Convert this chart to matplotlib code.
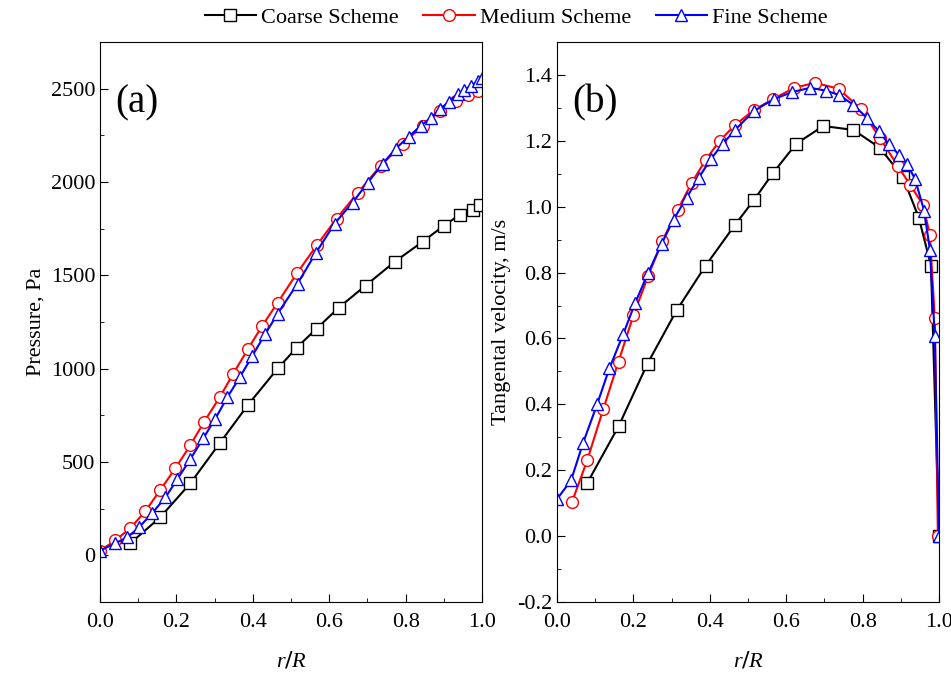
import matplotlib.pyplot as plt
from matplotlib.ticker import MultipleLocator

plt.rcParams['font.family'] = ['Liberation Serif', 'DejaVu Serif']
plt.rcParams['mathtext.fontset'] = 'custom'
plt.rcParams['mathtext.it'] = 'Liberation Serif:italic'

# (a) pressure
p_coarse_x = [0.079, 0.157, 0.236, 0.313, 0.388, 0.465, 0.515, 0.567, 0.625,
              0.695, 0.772, 0.845, 0.900, 0.942, 0.976, 0.995]
p_coarse_y = [64, 203, 385, 600, 808, 1001, 1113, 1215, 1327,
              1445, 1574, 1681, 1766, 1825, 1852, 1879]
p_medium_x = [0.0, 0.040, 0.079, 0.118, 0.157, 0.197, 0.236, 0.273, 0.313, 0.349,
              0.388, 0.425, 0.465, 0.515, 0.567, 0.619, 0.675, 0.735, 0.793,
              0.845, 0.890, 0.932, 0.963, 0.990]
p_medium_y = [25, 80, 145, 235, 348, 466, 589, 717, 846, 974,
              1108, 1231, 1354, 1510, 1660, 1804, 1943, 2088, 2205,
              2302, 2382, 2436, 2468, 2489]
p_fine_x = [0.0, 0.039, 0.071, 0.102, 0.136, 0.171, 0.202, 0.236, 0.270, 0.302,
            0.333, 0.367, 0.399, 0.433, 0.465, 0.517, 0.564, 0.614, 0.661,
            0.701, 0.740, 0.774, 0.808, 0.840, 0.866, 0.890, 0.913, 0.937,
            0.953, 0.971, 0.990, 1.0]
p_fine_y = [25, 64, 96, 150, 225, 310, 407, 514, 626, 733,
            846, 958, 1070, 1188, 1295, 1456, 1617, 1777, 1890,
            1997, 2098, 2179, 2243, 2302, 2345, 2390, 2430, 2473,
            2494, 2516, 2543, 2559]

# (b) tangential velocity
v_coarse_x = [0.079, 0.161, 0.237, 0.313, 0.389, 0.466, 0.516, 0.566, 0.626,
              0.697, 0.776, 0.845, 0.905, 0.947, 0.979, 1.0]
v_coarse_y = [0.161, 0.333, 0.524, 0.685, 0.821, 0.945, 1.021, 1.103, 1.191,
              1.245, 1.233, 1.179, 1.091, 0.967, 0.821, 0.0]
v_medium_x = [0.039, 0.079, 0.121, 0.161, 0.200, 0.239, 0.276, 0.316, 0.353,
              0.389, 0.426, 0.466, 0.516, 0.566, 0.621, 0.676, 0.737, 0.795,
              0.845, 0.892, 0.924, 0.958, 0.976, 0.989, 0.997]
v_medium_y = [0.103, 0.230, 0.385, 0.530, 0.670, 0.791, 0.897, 0.991, 1.073,
              1.142, 1.200, 1.248, 1.294, 1.327, 1.361, 1.376, 1.358, 1.297,
              1.209, 1.124, 1.067, 1.006, 0.915, 0.661, 0.0]
v_fine_x = [0.0, 0.037, 0.068, 0.105, 0.137, 0.174, 0.205, 0.239, 0.274, 0.305,
            0.339, 0.371, 0.403, 0.434, 0.466, 0.516, 0.568, 0.616, 0.663,
            0.705, 0.739, 0.776, 0.811, 0.842, 0.868, 0.895, 0.916, 0.937,
            0.961, 0.976, 0.989, 1.0]
v_fine_y = [0.112, 0.170, 0.282, 0.400, 0.509, 0.615, 0.709, 0.800, 0.888, 0.961,
            1.027, 1.088, 1.145, 1.191, 1.233, 1.291, 1.327, 1.348, 1.361,
            1.352, 1.339, 1.309, 1.270, 1.230, 1.191, 1.158, 1.130, 1.085,
            0.988, 0.870, 0.609, 0.0]

labels = ["Coarse Scheme", "Medium Scheme", "Fine Scheme"]
colors = ["black", "red", "blue"]
markers = ["s", "o", "^"]

fig = plt.figure(figsize=(9.51, 6.74), dpi=100)
ax1 = fig.add_axes([0.1052, 0.1068, 0.4017, 0.8309])
ax2 = fig.add_axes([0.5857, 0.1068, 0.4017, 0.8309])

def draw(ax, series):
    handles = []
    for (x, y), c, m, lab in zip(series, colors, markers, labels):
        h, = ax.plot(x, y, color=c, lw=1.5, marker=m, ms=8.5, mfc="white",
                     mec=c, mew=1.0, label=lab)
        handles.append(h)
    ax.tick_params(direction="in", which="both", labelsize=16, top=False, right=False)
    ax.tick_params(which="major", length=6)
    ax.tick_params(which="minor", length=3)
    ax.tick_params(axis="x", pad=8)
    ax.set_xlim(0, 1.0)
    ax.xaxis.set_major_locator(MultipleLocator(0.2))
    ax.xaxis.set_minor_locator(MultipleLocator(0.1))
    ax.xaxis.set_major_formatter(plt.FuncFormatter(lambda v, p: "%.1f" % v))
    ax.set_xlabel("$r/R$", fontsize=16, labelpad=13)
    return handles

handles = draw(ax1, [(p_coarse_x, p_coarse_y), (p_medium_x, p_medium_y), (p_fine_x, p_fine_y)])
ax1.set_ylim(-250, 2750)
ax1.yaxis.set_major_locator(MultipleLocator(500))
ax1.yaxis.set_minor_locator(MultipleLocator(250))
ax1.set_ylabel("Pressure, Pa", fontsize=16)
ax1.text(0.04, 0.875, "(a)", transform=ax1.transAxes, fontsize=28)

draw(ax2, [(v_coarse_x, v_coarse_y), (v_medium_x, v_medium_y), (v_fine_x, v_fine_y)])
ax2.set_ylim(-0.2, 1.5)
ax2.yaxis.set_major_locator(MultipleLocator(0.2))
ax2.yaxis.set_minor_locator(MultipleLocator(0.1))
ax2.yaxis.set_major_formatter(plt.FuncFormatter(lambda v, p: "%.1f" % v))
ax2.set_ylabel("Tangental velocity, m/s", fontsize=16)
ax2.text(0.04, 0.875, "(b)", transform=ax2.transAxes, fontsize=28)

fig.legend(handles, labels, loc="center", bbox_to_anchor=(0.543, 0.974), ncol=3,
           frameon=False, fontsize=16, handlelength=2.3, columnspacing=1.1,
           handletextpad=0.25, borderaxespad=0)

fig.savefig("out.png", dpi=100)
